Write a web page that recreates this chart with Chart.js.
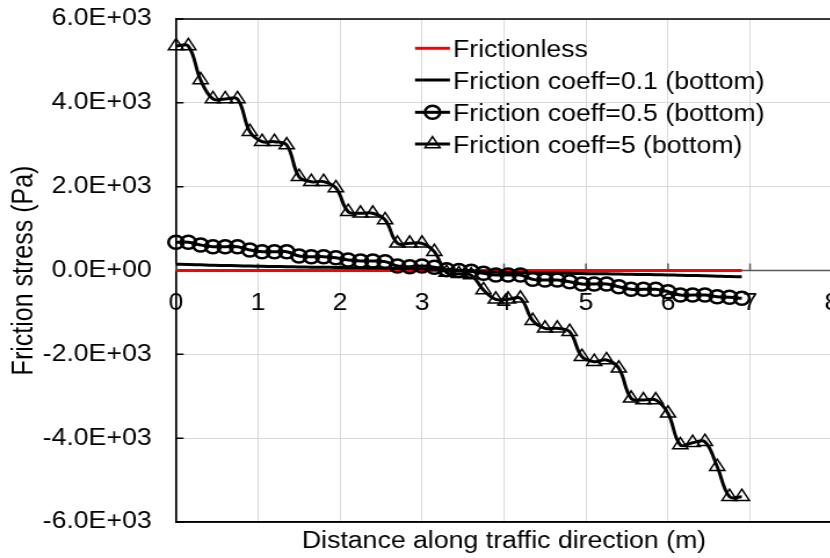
<!DOCTYPE html>
<html>
<head>
<meta charset="utf-8">
<script src="https://cdn.jsdelivr.net/npm/chart.js@4.4.1/dist/chart.umd.min.js"></script>
<style>
html, body { margin: 0; padding: 0; background: #fff; overflow: hidden; width: 830px; height: 558px; }
#wrap { width: 740px; height: 558px; transform: scaleX(1.16); transform-origin: 0 0; }
</style>
</head>
<body>
<div id="wrap"><canvas id="stressChart" width="740" height="558"></canvas></div>
<script>
// distance along traffic direction (m)
var xValues = [0, 0.15, 0.3, 0.45, 0.6, 0.75, 0.9, 1.05, 1.2, 1.35, 1.5, 1.65, 1.8, 1.95, 2.1, 2.25,
    2.4, 2.55, 2.7, 2.85, 3.0, 3.15, 3.3, 3.45, 3.6, 3.75, 3.9, 4.05, 4.2, 4.35, 4.5, 4.65,
    4.8, 4.95, 5.1, 5.25, 5.4, 5.55, 5.7, 5.85, 6.0, 6.15, 6.3, 6.45, 6.6, 6.75, 6.9];

// friction stress (Pa)
var frictionless = [0, 0, 0, 0, 0, 0, 0, 0, 0, 0, 0, 0, 0, 0, 0, 0,
    0, 0, 0, 0, 0, 0, 0, 0, 0, 0, 0, 0, 0, 0, 0, 0,
    0, 0, 0, 0, 0, 0, 0, 0, 0, 0, 0, 0, 0, 0, 0];
var coeff01 = [150, 145, 135, 125, 120, 115, 105, 100, 95, 92, 85, 80, 77, 74, 68, 64,
    61, 58, 50, 45, 40, 32, 15, 0, -15, -32, -40, -45, -50, -58, -61, -64,
    -68, -74, -77, -80, -85, -92, -95, -100, -105, -115, -120, -125, -135, -145, -150];
var coeff05 = [673, 673, 608, 568, 568, 568, 489, 449, 449, 449, 346, 330, 330, 306, 251, 227,
    227, 211, 107, 91, 107, 76, 20, 0, -20, -67, -107, -107, -107, -211, -227, -227,
    -267, -322, -322, -322, -386, -449, -449, -449, -506, -585, -585, -585, -625, -640, -663];
var coeff5 = [5357, 5357, 4545, 4092, 4092, 4092, 3312, 3073, 3073, 2994, 2238, 2119, 2119, 1969, 1403, 1365,
    1365, 1205, 649, 649, 649, 449, -50, -80, -110, -465, -687, -687, -663, -1197, -1379, -1379,
    -1460, -2057, -2176, -2135, -2334, -3049, -3090, -3090, -3407, -4163, -4109, -4085, -4681, -5397, -5397];

var seriesNames = ['Frictionless', 'Friction coeff=0.1 (bottom)', 'Friction coeff=0.5 (bottom)', 'Friction coeff=5 (bottom)'];
var yTicks = [-6000, -4000, -2000, 0, 2000, 4000, 6000];
var xTicks = [0, 1, 2, 3, 4, 5, 6, 7, 8];

var stretchX = 1.16;   // picture is wider than tall, canvas gets stretched by css
var plotLeft = 176 / stretchX;
var plotRight = 832 / stretchX;
var canvasW = 740;
var fontName = "'Liberation Sans', Arial, sans-serif";

Chart.defaults.font.family = fontName;
Chart.defaults.color = '#000';

function toPoints(arr) {
    return xValues.map(function (x, i) { return { x: x, y: arr[i] }; });
}

function sciLabel(v) {
    if (v == 0) return '0.0E+00';
    var e = Math.floor(Math.log10(Math.abs(v)) + 1e-9);
    var m = v / Math.pow(10, e);
    return m.toFixed(1) + 'E' + (e < 0 ? '-' : '+') + String(Math.abs(e)).padStart(2, '0');
}

// plot frame + the small inward tick marks (chart.js only draws them outward)
var framePlugin = {
    id: 'frame',
    beforeDatasetsDraw: function (chart) {
        var a = chart.chartArea;
        var ctx = chart.ctx;
        var xs = chart.scales.x;
        var ys = chart.scales.y;
        var y0 = ys.getPixelForValue(0);
        ctx.save();
        ctx.strokeStyle = '#000';
        ctx.lineWidth = 1.5;
        ctx.beginPath();
        ctx.moveTo(a.right + 20, a.top);
        ctx.lineTo(a.left, a.top);
        ctx.lineTo(a.left, a.bottom);
        ctx.lineTo(a.right + 20, a.bottom);
        ctx.stroke();
        ctx.beginPath();
        yTicks.forEach(function (t) {
            var py = ys.getPixelForValue(t);
            ctx.moveTo(a.left, py);
            ctx.lineTo(a.left + 6.5, py);
        });
        ctx.stroke();
        ctx.strokeStyle = '#595959';
        ctx.beginPath();
        ctx.moveTo(a.left, y0);
        ctx.lineTo(a.right + 20, y0);
        xTicks.forEach(function (t) {
            var px = xs.getPixelForValue(t);
            ctx.moveTo(px, y0);
            ctx.lineTo(px, y0 - 7);
        });
        ctx.stroke();
        ctx.restore();
    }
};

var legendPlugin = {
    id: 'insideLegend',
    afterDatasetsDraw: function (chart) {
        var ctx = chart.ctx;
        var rowY = [48.3, 80, 112.3, 144];
        var x1 = 357.8, x2 = 387.9, tx = 390.5;
        ctx.save();
        for (var i = 0; i < 4; i++) {
            var ds = chart.data.datasets[i];
            ctx.strokeStyle = ds.borderColor;
            ctx.lineWidth = ds.borderWidth;
            ctx.beginPath();
            ctx.moveTo(x1, rowY[i]);
            ctx.lineTo(x2, rowY[i]);
            ctx.stroke();
            if (ds.pointRadius > 0) {
                ctx.strokeStyle = '#000';
                ctx.fillStyle = 'rgba(0,0,0,0)';
                ctx.lineWidth = ds.pointBorderWidth;
                Chart.helpers.drawPoint(ctx, {
                    pointStyle: ds.pointStyle,
                    radius: ds.pointRadius,
                    rotation: 0,
                    borderWidth: ds.pointBorderWidth
                }, (x1 + x2) / 2, rowY[i]);
            }
            ctx.fillStyle = '#000';
            ctx.font = '23px ' + fontName;
            ctx.textBaseline = 'alphabetic';
            ctx.textAlign = 'left';
            ctx.fillText(seriesNames[i], tx, rowY[i] + 8.5);
        }
        ctx.restore();
    }
};

var ctx = document.getElementById('stressChart').getContext('2d');
var stressChart = new Chart(ctx, {
    type: 'line',
    data: {
        datasets: [
            {
                label: seriesNames[0], data: toPoints(frictionless), order: 4,
                borderColor: '#ff0000', borderWidth: 3, pointRadius: 0, tension: 0.4, clip: false
            },
            {
                label: seriesNames[1], data: toPoints(coeff01), order: 3,
                borderColor: '#000', borderWidth: 3, pointRadius: 0, tension: 0.4, clip: false
            },
            {
                label: seriesNames[2], data: toPoints(coeff05), order: 2,
                borderColor: '#000', borderWidth: 3, tension: 0.4, clip: false,
                pointStyle: 'circle', pointRadius: 6.5, pointBorderWidth: 2.5,
                pointBorderColor: '#000', pointBackgroundColor: 'rgba(0,0,0,0)'
            },
            {
                label: seriesNames[3], data: toPoints(coeff5), order: 1,
                borderColor: '#000', borderWidth: 3, tension: 0.4, clip: false,
                pointStyle: 'triangle', pointRadius: 7.5, pointBorderWidth: 1.5,
                pointBorderColor: '#000', pointBackgroundColor: 'rgba(0,0,0,0)'
            }
        ]
    },
    options: {
        responsive: false,
        animation: false,
        devicePixelRatio: 1,
        layout: { padding: { top: 19, left: 0, right: canvasW - plotRight, bottom: 0 } },
        plugins: { legend: { display: false }, tooltip: { enabled: false } },
        elements: { point: { hoverRadius: 0 } },
        scales: {
            x: {
                type: 'linear', position: 'bottom', min: 0, max: 8,
                ticks: { display: false, stepSize: 1 },
                grid: { color: '#d9d9d9', lineWidth: 1, drawTicks: false },
                border: { color: '#000', width: 1.5 },
                title: {
                    display: true, text: 'Distance along traffic direction (m)',
                    font: { size: 23 }, padding: { top: 0, bottom: 3 }
                },
                afterFit: function (scale) { scale.height = 36; }
            },
            x2: {
                type: 'linear', position: { y: 0 }, min: 0, max: 8,
                ticks: { stepSize: 1, padding: 0, maxRotation: 0, font: { size: 23 } },
                grid: { drawOnChartArea: false, tickLength: 19.7, tickColor: 'rgba(0,0,0,0)' },
                border: { display: false }
            },
            y: {
                type: 'linear', position: 'left', min: yTicks[0], max: yTicks[yTicks.length - 1],
                ticks: {
                    stepSize: 2000, padding: 0, font: { size: 23 },
                    callback: function (v) { return sciLabel(v); }
                },
                grid: { color: '#d9d9d9', lineWidth: 1, tickLength: 21, tickColor: 'rgba(0,0,0,0)' },
                border: { color: '#000', width: 1.5 },
                title: {
                    display: true, text: 'Friction stress (Pa)',
                    font: { size: 25 }, padding: { top: 6.5, bottom: 0 }
                },
                afterFit: function (scale) { scale.width = plotLeft; }
            }
        }
    },
    plugins: [framePlugin, legendPlugin]
});
</script>
</body>
</html>
